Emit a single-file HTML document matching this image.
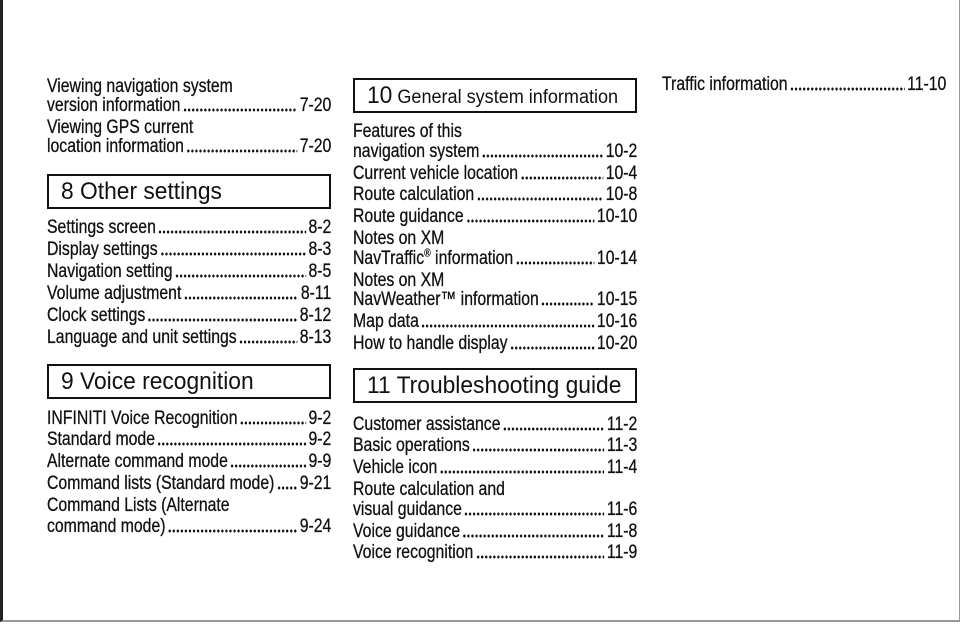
<!DOCTYPE html>
<html><head><meta charset="utf-8">
<style>
html,body{margin:0;padding:0;background:#fff;}
body{width:960px;height:624px;position:relative;overflow:hidden;font-family:"Liberation Sans",sans-serif;color:#111;}
.frame{position:absolute;left:0;top:0;width:956px;height:620px;border-left:3px solid #222;border-right:1px solid #999;border-bottom:2px solid #999;}
.e{position:absolute;height:22px;line-height:22px;font-size:19.5px;display:flex;white-space:nowrap;transform:scaleX(0.81);transform-origin:0 0;-webkit-text-stroke:0.3px #111;}
.c1{left:47px;width:351px}
.c2{left:353px;width:351px}
.c3{left:662px;width:351px}
.d{flex:1;height:4px;align-self:flex-end;margin:0 3px 4px 3px;background:radial-gradient(circle,#111 1.3px,transparent 1.7px) 0 0/5px 4px repeat-x;}
.t{white-space:nowrap}
.box{position:absolute;border:2px solid #111;box-sizing:border-box;height:35px;line-height:31px;font-size:24px;padding-left:12px;white-space:nowrap;}
.box span.s{display:inline-block;transform:scaleX(0.95);transform-origin:0 50%;}
sup{font-size:11px;line-height:0;}
</style></head><body>
<div class="frame"></div>

<div class="e c1" style="top:75px"><span class="t">Viewing navigation system</span></div>
<div class="e c1" style="top:94px"><span class="t">version information</span><span class="d"></span><span>7-20</span></div>
<div class="e c1" style="top:116px"><span class="t">Viewing GPS current</span></div>
<div class="e c1" style="top:135px"><span class="t">location information</span><span class="d"></span><span>7-20</span></div>

<div class="box" style="left:47px;top:174px;width:284px;"><span class="s">8 Other settings</span></div>
<div class="e c1" style="top:216px"><span class="t">Settings screen</span><span class="d"></span><span>8-2</span></div>
<div class="e c1" style="top:238px"><span class="t">Display settings</span><span class="d"></span><span>8-3</span></div>
<div class="e c1" style="top:260px"><span class="t">Navigation setting</span><span class="d"></span><span>8-5</span></div>
<div class="e c1" style="top:282px"><span class="t">Volume adjustment</span><span class="d"></span><span>8-11</span></div>
<div class="e c1" style="top:304px"><span class="t">Clock settings</span><span class="d"></span><span>8-12</span></div>
<div class="e c1" style="top:326px"><span class="t">Language and unit settings</span><span class="d"></span><span>8-13</span></div>

<div class="box" style="left:47px;top:364px;width:284px;"><span class="s">9 Voice recognition</span></div>
<div class="e c1" style="top:407px"><span class="t">INFINITI Voice Recognition</span><span class="d"></span><span>9-2</span></div>
<div class="e c1" style="top:428px"><span class="t">Standard mode</span><span class="d"></span><span>9-2</span></div>
<div class="e c1" style="top:450px"><span class="t">Alternate command mode</span><span class="d"></span><span>9-9</span></div>
<div class="e c1" style="top:472px"><span class="t">Command lists (Standard mode)</span><span class="d"></span><span>9-21</span></div>
<div class="e c1" style="top:494px"><span class="t">Command Lists (Alternate</span></div>
<div class="e c1" style="top:515px"><span class="t">command mode)</span><span class="d"></span><span>9-24</span></div>

<div class="box" style="left:353px;top:78px;width:284px;font-size:19px;"><span class="s"><span style="font-size:24px">10</span> General system information</span></div>
<div class="e c2" style="top:120px"><span class="t">Features of this</span></div>
<div class="e c2" style="top:140px"><span class="t">navigation system</span><span class="d"></span><span>10-2</span></div>
<div class="e c2" style="top:162px"><span class="t">Current vehicle location</span><span class="d"></span><span>10-4</span></div>
<div class="e c2" style="top:183px"><span class="t">Route calculation</span><span class="d"></span><span>10-8</span></div>
<div class="e c2" style="top:205px"><span class="t">Route guidance</span><span class="d"></span><span>10-10</span></div>
<div class="e c2" style="top:227px"><span class="t">Notes on XM</span></div>
<div class="e c2" style="top:247px"><span class="t">NavTraffic<sup>®</sup> information</span><span class="d"></span><span>10-14</span></div>
<div class="e c2" style="top:269px"><span class="t">Notes on XM</span></div>
<div class="e c2" style="top:288px"><span class="t">NavWeather™ information</span><span class="d"></span><span>10-15</span></div>
<div class="e c2" style="top:310px"><span class="t">Map data</span><span class="d"></span><span>10-16</span></div>
<div class="e c2" style="top:332px"><span class="t">How to handle display</span><span class="d"></span><span>10-20</span></div>

<div class="box" style="left:353px;top:368px;width:284px;"><span class="s">11 Troubleshooting guide</span></div>
<div class="e c2" style="top:413px"><span class="t">Customer assistance</span><span class="d"></span><span>11-2</span></div>
<div class="e c2" style="top:434px"><span class="t">Basic operations</span><span class="d"></span><span>11-3</span></div>
<div class="e c2" style="top:456px"><span class="t">Vehicle icon</span><span class="d"></span><span>11-4</span></div>
<div class="e c2" style="top:478px"><span class="t">Route calculation and</span></div>
<div class="e c2" style="top:498px"><span class="t">visual guidance</span><span class="d"></span><span>11-6</span></div>
<div class="e c2" style="top:520px"><span class="t">Voice guidance</span><span class="d"></span><span>11-8</span></div>
<div class="e c2" style="top:541px"><span class="t">Voice recognition</span><span class="d"></span><span>11-9</span></div>

<div class="e c3" style="top:73px"><span class="t">Traffic information</span><span class="d"></span><span>11-10</span></div>
</body></html>
